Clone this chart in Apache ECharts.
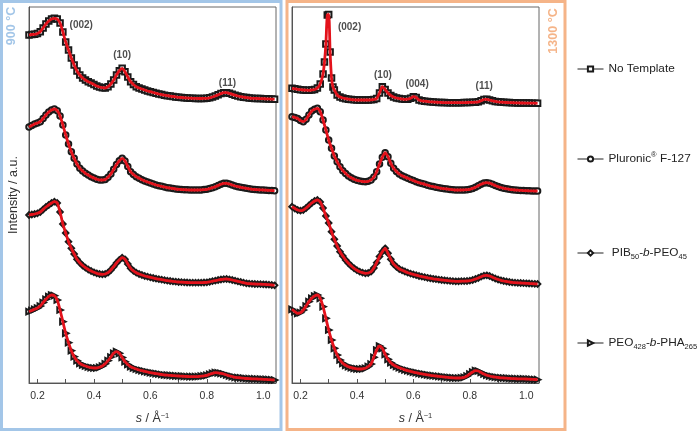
<!DOCTYPE html>
<html>
<head>
<meta charset="utf-8">
<script src="https://cdn.jsdelivr.net/npm/echarts@6/dist/echarts.min.js"></script>
<style>
    html, body { margin: 0; padding: 0; background: #fff; }
    #chart { width: 700px; height: 433px; }
</style>
</head>
<body>
<div id="chart"></div>
<script>
// scattering vector s / Å^-1 (common sampling)
var sGrid = [0.17, 0.18, 0.19, 0.20, 0.21, 0.22, 0.23, 0.24, 0.25, 0.26,
    0.27, 0.28, 0.29, 0.30, 0.31, 0.32, 0.33, 0.34, 0.35, 0.36,
    0.37, 0.38, 0.39, 0.40, 0.41, 0.42, 0.43, 0.44, 0.45, 0.46,
    0.47, 0.48, 0.49, 0.50, 0.51, 0.52, 0.53, 0.54, 0.55, 0.56,
    0.57, 0.58, 0.59, 0.60, 0.61, 0.62, 0.63, 0.64, 0.65, 0.66,
    0.67, 0.68, 0.69, 0.70, 0.71, 0.72, 0.73, 0.74, 0.75, 0.76,
    0.77, 0.78, 0.79, 0.80, 0.81, 0.82, 0.83, 0.84, 0.85, 0.86,
    0.87, 0.88, 0.89, 0.90, 0.91, 0.92, 0.93, 0.94, 0.95, 0.96,
    0.97, 0.98, 0.99, 1.00, 1.01, 1.02, 1.03, 1.04];

var sampleNames = ["No Template", "Pluronic® F-127", "PIB50-b-PEO45", "PEO428-b-PHA265"];

// 900 °C, stacked intensities (a.u.)
var noTemplate900 = [348, 348.5, 348.7, 349.5, 351.3, 355, 359, 362, 364, 364.7,
    364, 360, 351, 341, 333, 325, 318, 312, 308, 305,
    303, 301.3, 300, 298.5, 297, 296, 295.3, 295, 296.3, 299,
    303, 308, 312.3, 314.7, 311.3, 306, 301.3, 298.5, 296.3, 295,
    294, 293, 292, 291.3, 290.5, 289.7, 289, 288.4, 287.8, 287.3,
    286.9, 286.5, 286.1, 285.7, 285.5, 285.2, 285, 284.8, 284.7, 284.6,
    284.5, 284.5, 284.6, 284.7, 285.2, 286, 287, 288.2, 289.4, 290.3,
    290.3, 289.7, 288.7, 287.8, 287, 286.3, 285.8, 285.4, 285, 284.7,
    284.6, 284.5, 284.4, 284.3, 284.2, 284.1, 283.9, 283.7];
var pluronic900 = [256, 257.5, 259, 260, 261.3, 264.5, 268, 271, 273, 274,
    272.3, 267, 258, 248, 239, 231.3, 224.7, 219, 214.7, 212,
    209.7, 208, 206.3, 205, 203.7, 203, 203, 203.5, 205.7, 209,
    213.7, 218.5, 222.3, 224.7, 222, 216.5, 211.3, 208.5, 206.3, 204.7,
    203.3, 202, 201, 200, 199, 198, 197.3, 196.7, 196, 195.3,
    194.9, 194.5, 194, 193.7, 193.5, 193.3, 193.2, 193, 193, 193,
    193, 193.1, 193.4, 193.7, 194.4, 195.3, 196.3, 197.5, 198.7, 199.7,
    199.7, 199, 198, 197, 196.3, 195.7, 195.2, 194.7, 194.2, 193.7,
    193.5, 193.3, 193.1, 193, 192.8, 192.6, 192.5, 192.3];
var pib900 = [168, 168.5, 169, 169.7, 171, 173.5, 176, 178, 180, 181.3,
    180, 171, 159, 150, 141.3, 134.7, 129, 123.7, 120.3, 117.5,
    115.3, 113.5, 112, 110.7, 109.7, 109, 108.7, 109, 110.3, 113,
    116.3, 120, 123, 125.3, 123.7, 119, 114.7, 112.2, 110.3, 109,
    108, 107, 106.3, 105.6, 105, 104.3, 103.8, 103.3, 102.8, 102.3,
    102, 101.6, 101.3, 101, 100.9, 100.7, 100.5, 100.4, 100.3, 100.3,
    100.3, 100.4, 100.5, 100.7, 101.2, 101.8, 102.3, 103, 103.5, 103.9,
    104, 103.6, 103, 102.3, 101.6, 101, 100.3, 99.7, 99.4, 99.2,
    99, 98.9, 98.8, 98.7, 98.5, 98.3, 98, 97.7];
var peoPha900 = [71.3, 72.5, 73.7, 75, 77, 80.5, 83.7, 86.5, 88, 87.3,
    83, 73, 61.3, 49.7, 40.3, 32.3, 26.3, 22.3, 19.7, 18,
    17, 16, 15.3, 15, 15, 15.7, 17, 19.2, 22.3, 26,
    29.7, 31.3, 29.7, 25.5, 21.3, 18.5, 16.3, 15, 14, 13,
    12.3, 11.6, 11, 10.3, 9.8, 9.4, 9, 8.5, 8, 7.8,
    7.6, 7.4, 7.2, 7, 6.9, 6.7, 6.5, 6.4, 6.3, 6.3,
    6.5, 6.8, 7.2, 7.7, 8.7, 9.7, 10.3, 10.2, 9.7, 9,
    8, 7.2, 6.4, 5.7, 5.4, 5.1, 4.8, 4.5, 4.3, 4.2,
    4.1, 4, 3.9, 3.7, 3.6, 3.4, 3.2, 3];

// 1300 °C, stacked intensities (a.u.)
var noTemplate1300 = [294.7, 294.2, 293.7, 293.3, 293, 292.8, 292.7, 293, 293.5, 295,
    299, 309, 339, 368.5, 305, 293, 288, 286, 285, 284.3,
    283.8, 283.4, 283.2, 283, 283, 283, 283, 283, 283.2, 283.5,
    284.5, 290, 296.3, 293.5, 290, 287.5, 286, 285, 284.4, 284,
    283.7, 283.8, 284.7, 286.3, 285.5, 283, 282.2, 281.8, 281.5, 281.2,
    281, 280.8, 280.6, 280.5, 280.4, 280.3, 280.3, 280.3, 280.3, 280.3,
    280.3, 280.4, 280.5, 280.6, 280.7, 280.8, 281.2, 282.2, 283.5, 283.7,
    283, 282.2, 281.6, 281.2, 280.9, 280.7, 280.5, 280.4, 280.3, 280.2,
    280.1, 280, 280, 279.9, 279.9, 279.8, 279.8, 279.7];
// extra points across the sharp (002) reflection
var peakS1300 = [0.285, 0.295, 0.305, 0.315];
var peakI1300 = [321, 368, 331, 296];
var pluronic1300 = [266.3, 265.5, 264.5, 262.5, 261.3, 263.7, 268, 272, 273.7, 274.7,
    271.3, 263, 253, 243, 234.7, 227, 221.3, 216.3, 212.3, 209.5,
    207, 205.2, 203.7, 202.7, 202, 201.5, 201.3, 201.7, 203, 206,
    211.3, 219, 225.7, 230.3, 226.3, 219.7, 214.7, 211.5, 209, 207.3,
    206, 204.7, 203.5, 202.4, 201.3, 200.3, 199.5, 198.7, 197.8, 197,
    196.4, 195.8, 195.2, 194.7, 194.3, 194, 193.6, 193.3, 193, 193,
    193, 193.1, 193.3, 193.7, 194.6, 195.8, 197.3, 198.8, 199.9, 200.3,
    199.8, 198.7, 197.5, 196.4, 195.5, 194.7, 194.2, 193.7, 193.3, 193,
    192.8, 192.6, 192.4, 192.3, 192.2, 192.1, 192, 192];
var pib1300 = [176.3, 174.5, 173, 172.3, 173, 175, 177.5, 180, 182, 183,
    181, 175, 167, 160, 151.3, 143.7, 137, 131.3, 127, 123,
    119.7, 117, 114.7, 112.8, 111.3, 110.3, 109.7, 110, 111.3, 115,
    120.3, 126.5, 131.3, 134.7, 129.7, 123.7, 119, 116.2, 114, 112.7,
    111.5, 110.3, 109.4, 108.6, 107.8, 107, 106.4, 105.8, 105.2, 104.7,
    104.2, 103.8, 103.4, 103, 102.7, 102.4, 102.1, 101.9, 101.7, 101.7,
    101.8, 101.9, 102, 102.3, 103, 104, 105, 106.3, 107.3, 107.7,
    107, 105.7, 104.5, 103.5, 102.7, 102, 101.5, 101, 100.6, 100.3,
    100.1, 100, 99.8, 99.7, 99.5, 99.3, 99.2, 99];
var peoPha1300 = [73.7, 71.3, 69.7, 70.3, 73, 77, 81.3, 84.7, 87, 88,
    84.7, 76.3, 64.7, 53, 43, 34.7, 28, 23, 19.7, 17.7,
    16.3, 15.4, 14.7, 14.2, 14, 14.2, 14.7, 16.5, 19, 25.7,
    33, 37, 34.7, 28.7, 23.7, 20.3, 18, 16.5, 15.3, 14.2,
    13.2, 12.3, 11.6, 10.9, 10.3, 9.7, 9.2, 8.7, 8.2, 7.7,
    7.3, 7, 6.6, 6.3, 6, 5.7, 5.4, 5.2, 5, 5,
    5.2, 5.7, 7, 9, 11, 12.3, 12, 10.5, 9, 7.8,
    7, 6.3, 5.9, 5.5, 5.2, 5, 4.8, 4.6, 4.4, 4.3,
    4.2, 4.1, 4.1, 4, 3.8, 3.6, 3.5, 3.3];

var peakTags900 = ["(002)", "(10)", "(11)"];
var peakTags1300 = ["(002)", "(10)", "(004)", "(11)"];

function pairs(s, v) {
    return s.map(function (x, i) { return [x, v[i]]; });
}

var font = "Liberation Sans";
var curves900 = [noTemplate900, pluronic900, pib900, peoPha900].map(function (v) { return pairs(sGrid, v); });
var curves1300 = [
    pairs(sGrid, noTemplate1300).concat(pairs(peakS1300, peakI1300)).sort(function (a, b) { return a[0] - b[0]; }),
    pairs(sGrid, pluronic1300),
    pairs(sGrid, pib1300),
    pairs(sGrid, peoPha1300)
];

var symbols = ["emptyRect", "emptyCircle", "emptyDiamond", "emptyTriangle"];
var symbolTurns = [0, 0, 0, -90];
// where the reflection labels sit (s, a.u.)
var tagSpots900 = [[0.355, 358], [0.50, 328], [0.873, 300]];
var tagSpots1300 = [[0.374, 356], [0.492, 308], [0.613, 299], [0.851, 297]];

var series = [];
[curves900, curves1300].forEach(function (curves, p) {
    curves.forEach(function (data, k) {
        series.push({
            type: "line",
            name: sampleNames[k],
            xAxisIndex: p,
            yAxisIndex: p,
            data: data,
            symbol: symbols[k],
            symbolSize: 5.5,
            symbolRotate: symbolTurns[k],
            showAllSymbol: true,
            lineStyle: { width: 0 },
            itemStyle: { color: "#1a1a1a", borderWidth: 1 },
            z: 2
        });
        series.push({
            type: "line",
            name: "fit",
            xAxisIndex: p,
            yAxisIndex: p,
            data: data,
            showSymbol: false,
            smooth: 0.25,
            lineStyle: { color: "#e3121b", width: 2.8 },
            silent: true,
            z: 3
        });
    });
    var tags = p === 0 ? peakTags900 : peakTags1300;
    var spots = p === 0 ? tagSpots900 : tagSpots1300;
    series.push({
        type: "scatter",
        name: "tags",
        xAxisIndex: p,
        yAxisIndex: p,
        symbolSize: 1,
        itemStyle: { color: "transparent" },
        silent: true,
        data: tags.map(function (t, i) { return [spots[i][0], spots[i][1], t]; }),
        label: {
            show: true,
            position: "inside",
            formatter: function (d) { return d.value[2]; },
            fontFamily: font,
            fontWeight: "bold",
            fontSize: 10,
            color: "#222"
        },
        z: 4
    });
});

var xAxisOpts = function (p) {
    return {
        type: "value",
        gridIndex: p,
        min: 0.17,
        max: 1.045,
        axisLine: { show: true, lineStyle: { color: "#555", width: 1 } },
        axisTick: { show: true, inside: true, length: 4, lineStyle: { color: "#555" } },
        minorTick: { show: true, splitNumber: 2, length: 4, lineStyle: { color: "#555" } },
        splitLine: { show: false },
        axisLabel: {
            showMinLabel: false,
            showMaxLabel: false,
            margin: 8,
            fontFamily: font,
            fontSize: 10.5,
            color: "#333",
            formatter: function (v) { return v.toFixed(1); }
        },
        name: "{it|s} / Å{sup|−1}",
        nameLocation: "middle",
        nameGap: 29,
        nameTextStyle: {
            fontFamily: font,
            fontSize: 12.5,
            color: "#333",
            rich: {
                it: { fontStyle: "italic", fontSize: 12.5, fontFamily: font, color: "#333" },
                sup: { fontSize: 7.5, verticalAlign: "top", fontFamily: font, color: "#333", lineHeight: 14 }
            }
        }
    };
};

var yAxisOpts = function (p) {
    return {
        type: "value",
        gridIndex: p,
        min: 0,
        max: 376,
        axisLine: { show: true, lineStyle: { color: "#555" } },
        axisTick: { show: false },
        axisLabel: { show: false },
        splitLine: { show: false },
        name: p === 0 ? "Intensity / a.u." : "",
        nameLocation: "middle",
        nameGap: 9,
        nameTextStyle: { fontFamily: font, fontSize: 12.5, color: "#333" }
    };
};

var legendText = {
    "No Template": "No Template",
    "Pluronic® F-127": "Pluronic{sup|®} F-127",
    "PIB50-b-PEO45": " PIB{sub|50}-{it|b}-PEO{sub|45}",
    "PEO428-b-PHA265": "PEO{sub|428}-{it|b}-PHA{sub|265}"
};
var legendTops = [61, 151, 245, 335];

var option = {
    animation: false,
    backgroundColor: "#fff",
    grid: [
        { left: 29, top: 7, width: 247, height: 376, show: true, borderColor: "#666", borderWidth: 1 },
        { left: 292, top: 7, width: 247, height: 376, show: true, borderColor: "#666", borderWidth: 1 }
    ],
    xAxis: [xAxisOpts(0), xAxisOpts(1)],
    yAxis: [yAxisOpts(0), yAxisOpts(1)],
    legend: sampleNames.map(function (n, k) {
        return {
            data: [n],
            left: 577,
            top: legendTops[k],
            padding: 0,
            itemWidth: 26,
            itemHeight: 6.5,
            selectedMode: false,
            lineStyle: { width: 1, color: "#222" },
            formatter: function (name) { return legendText[name]; },
            textStyle: {
                fontFamily: font,
                fontSize: 11.8,
                color: "#222",
                lineHeight: 16,
                rich: {
                    sub: { fontSize: 7.5, verticalAlign: "bottom", fontFamily: font, color: "#222" },
                    sup: { fontSize: 7.5, verticalAlign: "top", fontFamily: font, color: "#222" },
                    it: { fontStyle: "italic", fontSize: 11.8, fontFamily: font, color: "#222" }
                }
            }
        };
    }),
    graphic: [
        { type: "rect", shape: { x: 1.5, y: 1.5, width: 279.5, height: 428 }, style: { fill: "none", stroke: "#a3c6e8", lineWidth: 3 }, silent: true },
        { type: "rect", shape: { x: 287, y: 1.5, width: 278, height: 428 }, style: { fill: "none", stroke: "#f5b488", lineWidth: 3 }, silent: true },
        { type: "text", x: 12, y: 26, rotation: Math.PI / 2, silent: true,
          style: { text: "900 °C", fill: "#a3c6e8", font: "bold 12.5px 'Liberation Sans'", align: "center", verticalAlign: "middle" } },
        { type: "text", x: 554, y: 31, rotation: Math.PI / 2, silent: true,
          style: { text: "1300 °C", fill: "#f5b488", font: "bold 12.5px 'Liberation Sans'", align: "center", verticalAlign: "middle" } }
    ],
    series: series
};

var chart = echarts.init(document.getElementById("chart"));
chart.setOption(option);
</script>
</body>
</html>
